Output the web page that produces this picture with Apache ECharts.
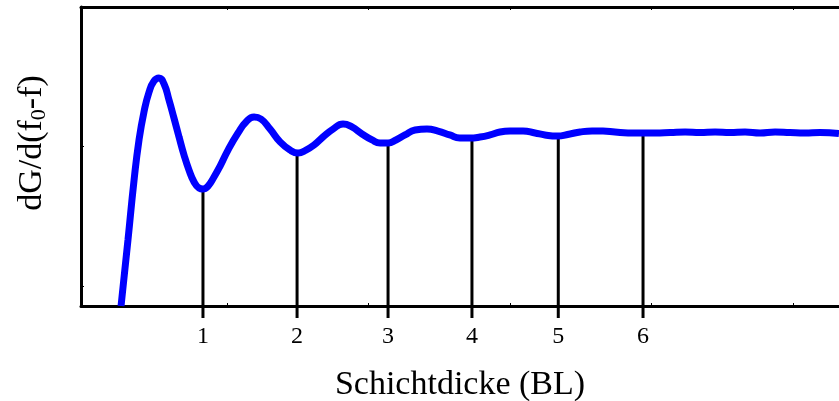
<!DOCTYPE html>
<html>
<head>
<meta charset="utf-8">
<script src="https://cdn.jsdelivr.net/npm/echarts@6/dist/echarts.min.js"></script>
<style>html,body{margin:0;padding:0;background:#fff}#c{width:839px;height:401px}</style>
</head>
<body>
<div id="c"></div>
<script>
// Curve: x = deposition (arbitrary units), y = dG/d(f0-f) (arbitrary units)
const curveX = [25.1,30.0,34.3,37.8,41.3,44.9,48.4,51.9,55.5,59.0,62.5,66.1,69.6,73.1,76.7,80.2,83.0,86.6,90.8,95.1,100.7,107.8,113.4,119.1,124.0,130.4,137.5,144.5,150.2,155.8,161.5,167.8,174.9,182.0,188.3,195.4,202.5,208.1,213.8,219.4,225.8,232.9,241.3,249.1,257.4,264.5,271.6,278.8,285.9,292.9,300.0,309.2,317.7,324.7,333.2,342.4,349.5,358.0,365.7,374.2,383.4,391.9,402.5,413.1,423.7,434.3,444.9,455.5,466.1,476.7,487.3,497.9,508.5,519.1,532.5];
const curveY = [-14.3,32.9,75.7,104.3,124.3,138.6,146.4,148.6,144.3,132.9,120.0,106.4,93.6,82.9,74.3,70.0,69.3,71.4,77.9,85.7,97.1,109.3,117.1,120.7,119.3,112.1,102.9,97.1,95.0,97.1,100.7,106.4,112.1,115.7,113.6,108.6,104.3,102.1,102.1,104.3,107.9,111.4,112.1,110.7,107.9,105.7,105.7,106.4,107.9,110.0,110.7,110.7,109.3,107.9,107.1,108.6,110.0,110.7,110.7,110.0,109.3,109.3,109.3,109.6,110.0,109.6,110.0,109.6,110.0,109.3,110.0,109.6,109.3,109.6,108.9];
// Layer completions (minima)
const layerLabels = ['1','2','3','4','5','6'];
const layerX = [83.0,149.5,213.8,273.1,334.1,394.0];
const layerY = [69.3,95.0,102.1,105.7,107.1,109.3];
const xTicks = [100,200,300,400,500];
const yTicks = [0,100];
const X_MIN = -3.2, X_MAX = 532.5, Y_MIN = -14.3, Y_MAX = 199.3;

const curveData = curveX.map((x,i)=>[x,curveY[i]]);
const layerData = layerX.map((x,i)=>[x,layerY[i]]);
const FONT = 'Liberation Serif';

const chart = echarts.init(document.getElementById('c'), null, {renderer:'canvas'});
const axisLine = {show:true, onZero:false, lineStyle:{color:'#000', width:3}};
chart.setOption({
  animation:false,
  backgroundColor:'#fff',
  grid:{left:81, right:0, top:7, bottom:95, containLabel:false, outerBoundsMode:'none'},
  xAxis:[{
    type:'value', min:X_MIN, max:X_MAX, position:'bottom',
    axisLine: axisLine,
    axisTick:{show:true, inside:true, length:3, customValues:xTicks, lineStyle:{color:'#000', width:1}},
    axisLabel:{show:true, customValues:layerX, margin:19,
      formatter:(v)=>{const i=layerX.indexOf(v); return i>=0?layerLabels[i]:'';},
      fontFamily:FONT, fontSize:24, color:'#000'},
    splitLine:{show:false},
    name:'Schichtdicke (BL)', nameLocation:'middle', nameGap:62,
    nameTextStyle:{fontFamily:FONT, fontSize:34, color:'#000'}
  },{
    type:'value', min:X_MIN, max:X_MAX, position:'top',
    axisLine: axisLine,
    axisTick:{show:true, inside:true, length:3, customValues:xTicks, lineStyle:{color:'#000', width:1}},
    axisLabel:{show:false}, splitLine:{show:false}
  }],
  yAxis:{
    type:'value', min:Y_MIN, max:Y_MAX, position:'left',
    axisLine: axisLine,
    axisTick:{show:true, inside:true, length:3, customValues:yTicks, lineStyle:{color:'#000', width:1}},
    axisLabel:{show:false}, splitLine:{show:false}
  },
  graphic:[{
    type:'text', x:32, y:143, rotation:Math.PI/2,
    style:{
      text:'{a|dG/d(f}{s|0}{a|-f)}',
      align:'center', verticalAlign:'middle',
      rich:{
        a:{fontFamily:FONT, fontSize:34, fill:'#000'},
        s:{fontFamily:FONT, fontSize:22, fill:'#000', verticalAlign:'bottom', padding:[14,0,0,0]}
      }
    }
  }],
  series:[{
    type:'custom', xAxisIndex:0, yAxisIndex:0, clip:false, z:1,
    data:layerData,
    renderItem:(params, api)=>{
      const top = api.coord([api.value(0), api.value(1)]);
      const bot = api.coord([api.value(0), Y_MIN]);
      return {type:'line', shape:{x1:top[0], y1:top[1], x2:bot[0], y2:bot[1]+12},
        style:{stroke:'#000', lineWidth:3}};
    }
  },{
    type:'line', xAxisIndex:0, yAxisIndex:0, data:curveData, smooth:0.5,
    showSymbol:false, clip:true, z:3,
    lineStyle:{color:'#0000ff', width:7}
  }]
});
</script>
</body>
</html>
